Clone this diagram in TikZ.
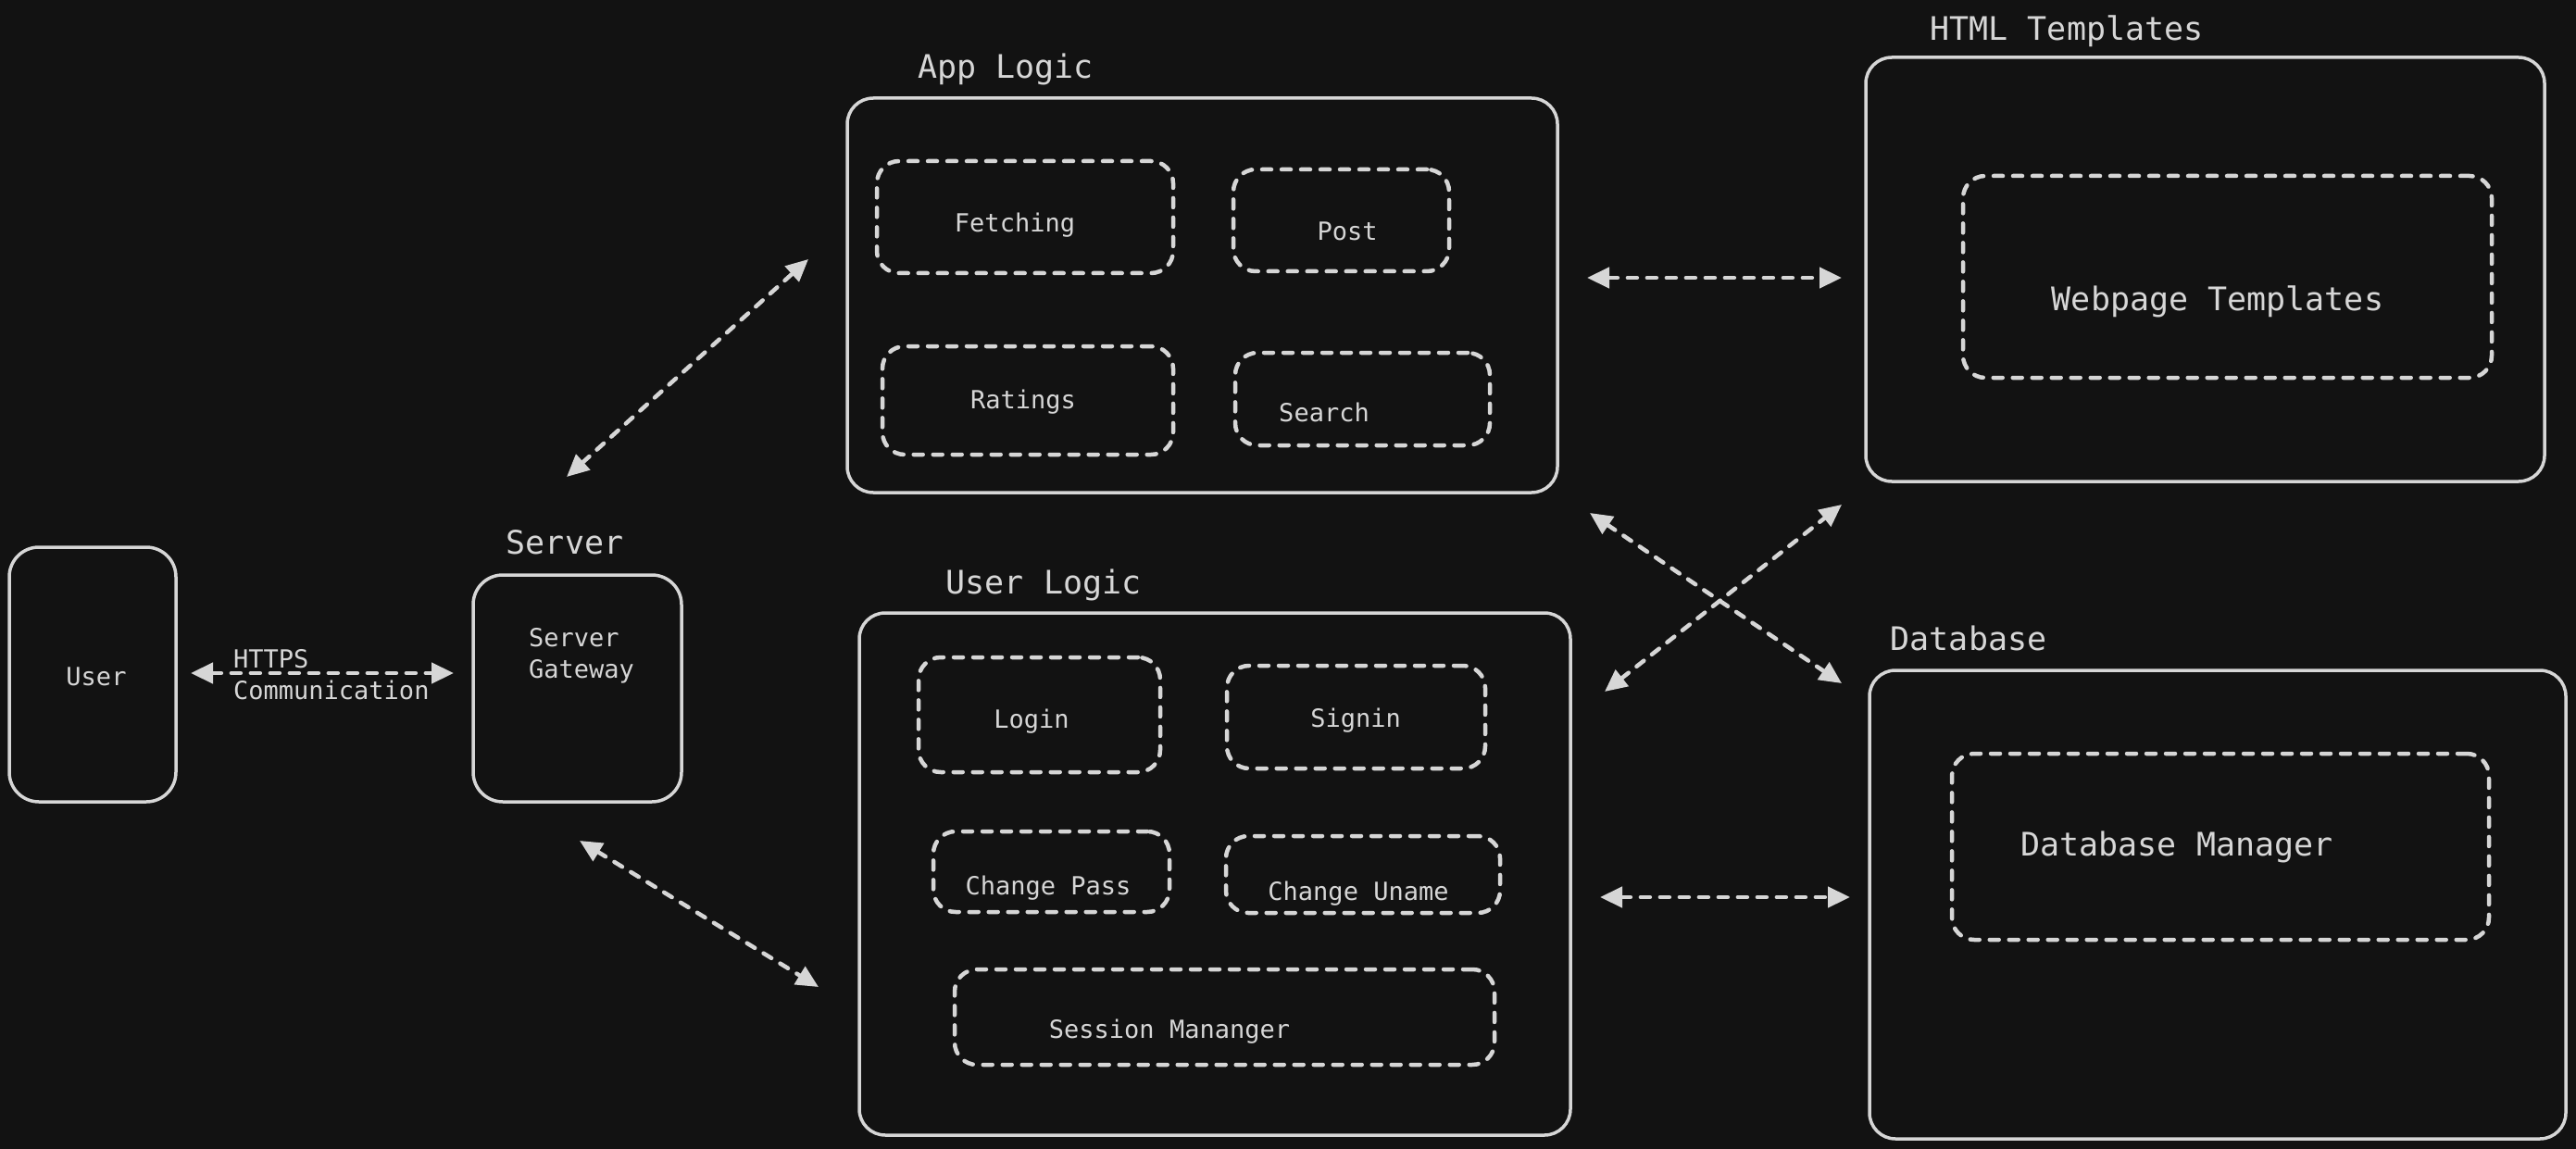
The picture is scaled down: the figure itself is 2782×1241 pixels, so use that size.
\documentclass[tikz,border=0pt]{standalone}
\usepackage{fontspec}
\setmonofont{DejaVu Sans Mono}
\usetikzlibrary{arrows.meta}
\definecolor{bg}{HTML}{121212}
\definecolor{fg}{HTML}{D6D6D6}
\begin{document}
\begin{tikzpicture}[x=1pt,y=-1pt,
 outer/.style={draw=fg, line width=3.5pt, rounded corners=28pt, inner sep=0pt},
 innerbox/.style={draw=fg, line width=4.5pt, line cap=round, dash pattern=on 10pt off 11pt, rounded corners=24pt, inner sep=0pt},
 bigtxt/.style={text=fg, font=\ttfamily\fontsize{35}{42}\selectfont, inner sep=0pt, yshift=-4pt},
 smalltxt/.style={text=fg, font=\ttfamily\fontsize{27}{34}\selectfont, inner sep=0pt, align=left, yshift=-3pt},
 link/.style={draw=fg, line width=4.5pt, line cap=round, dash pattern=on 10pt off 11pt, {Triangle[length=24pt,width=22pt]}-{Triangle[length=24pt,width=22pt]}},
]
\fill[bg] (0,0) rectangle (2782,1241);
\useasboundingbox (0,0) rectangle (2782,1241);

% outer boxes
\node[outer, rounded corners=32pt, minimum width=180pt, minimum height=275pt] (user) at (100,728.5) {};
\node[outer, rounded corners=32pt, minimum width=225pt, minimum height=245pt] (server) at (623.5,743.5) {};
\node[outer, minimum width=767pt, minimum height=426pt] (app) at (1298.5,319) {};
\node[outer, minimum width=733pt, minimum height=458pt] (html) at (2381.5,291) {};
\node[outer, minimum width=752pt, minimum height=506pt] (db) at (2395,977) {};
\node[outer, minimum width=768pt, minimum height=564pt] (ulogic) at (1312,944) {};

% inner dashed boxes
\node[innerbox, minimum width=320pt, minimum height=121pt] (fetch) at (1107,234.5) {};
\node[innerbox, minimum width=233pt, minimum height=110pt] (post) at (1448.5,238) {};
\node[innerbox, minimum width=314pt, minimum height=117pt] (ratings) at (1110,432.5) {};
\node[innerbox, minimum width=275pt, minimum height=100pt] (search) at (1471.5,431) {};
\node[innerbox, minimum width=571pt, minimum height=218pt] (webpage) at (2405.5,299) {};
\node[innerbox, minimum width=580pt, minimum height=201pt] (dbman) at (2398,914.5) {};
\node[innerbox, minimum width=261pt, minimum height=124pt] (login) at (1122.5,772) {};
\node[innerbox, minimum width=279pt, minimum height=111pt] (signin) at (1464.5,774.5) {};
\node[innerbox, minimum width=255pt, minimum height=87pt] (chpass) at (1135.5,941.5) {};
\node[innerbox, minimum width=296pt, minimum height=83pt] (chuname) at (1472,944.5) {};
\node[innerbox, minimum width=583pt, minimum height=103pt] (session) at (1322.5,1098.5) {};

% titles
\node[bigtxt] (serverT) at (610,582) {Server};
\node[bigtxt] (appT) at (1086,71) {App Logic};
\node[bigtxt] (htmlT) at (2232,30) {HTML Templates};
\node[bigtxt] (dbT) at (2126,685) {Database};
\node[bigtxt] (ulogicT) at (1127,628) {User Logic};

% texts
\node[smalltxt] (userL) at (104,728) {User};
\node[smalltxt, anchor=west] (serverL) at (571,705) {Server\\Gateway};
\node[smalltxt, anchor=west] (httpsL) at (252,726) {HTTPS\\Communication};
\node[smalltxt] (fetchL) at (1096,240) {Fetching};
\node[smalltxt] (postL) at (1455,247) {Post};
\node[smalltxt] (ratingsL) at (1105,431) {Ratings};
\node[smalltxt] (searchL) at (1430,442) {Search};
\node[smalltxt] (loginL) at (1114,776) {Login};
\node[smalltxt] (signinL) at (1464,775) {Signin};
\node[smalltxt] (chpassL) at (1132,956) {Change Pass};
\node[smalltxt] (chunameL) at (1467,962) {Change Uname};
\node[smalltxt] (sessionL) at (1263,1111) {Session Mananger};
\node[bigtxt] (webpageL) at (2395,322) {Webpage Templates};
\node[bigtxt] (dbmanL) at (2351,911) {Database Manager};

% connector ends
\coordinate (h1) at (206,727);   \coordinate (h2) at (490,727);
\coordinate (s1) at (612,515);   \coordinate (s2) at (873,280);
\coordinate (s3) at (626,908);   \coordinate (s4) at (884,1066);
\coordinate (p1) at (1714,300);  \coordinate (p2) at (1989,300);
\coordinate (x1) at (1717,554);  \coordinate (x2) at (1989,738);
\coordinate (x3) at (1733,747);  \coordinate (x4) at (1989,545);
\coordinate (d1) at (1728,969);  \coordinate (d2) at (1998,969);

\draw[link] (h1) -- (h2);
\draw[link] (s1) -- (s2);
\draw[link] (s3) -- (s4);
\draw[link] (p1) -- (p2);
\draw[link] (x1) -- (x2);
\draw[link] (x3) -- (x4);
\draw[link] (d1) -- (d2);
\end{tikzpicture}
\end{document}
